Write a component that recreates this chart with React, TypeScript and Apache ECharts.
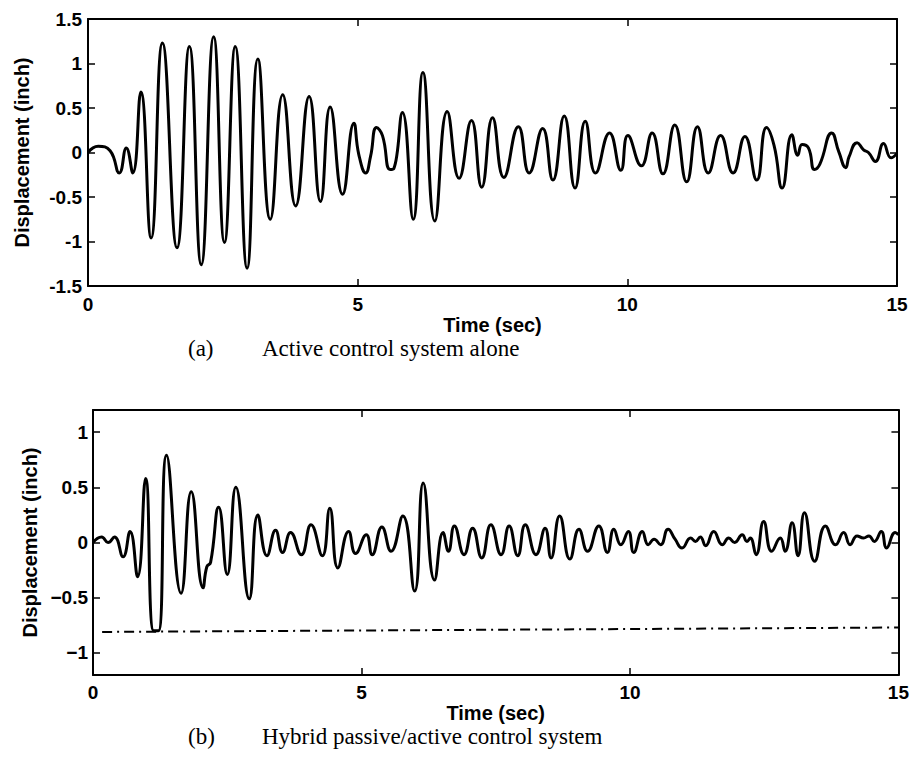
import React, { useEffect, useRef } from "react";
import * as echarts from "echarts";

// (a) Active control system alone — time (sec) and displacement (inch), read at extrema
const timeA = [0, 0.19, 0.41, 0.58, 0.71, 0.83, 0.98, 1.17, 1.38, 1.65, 1.88, 2.1, 2.33, 2.53, 2.73, 2.95, 3.15, 3.38, 3.61, 3.85, 4.1, 4.31, 4.49, 4.72, 4.93, 5.02, 5.15, 5.24, 5.35, 5.46, 5.6, 5.67, 5.83, 6.03, 6.21, 6.43, 6.66, 6.88, 7.11, 7.3, 7.5, 7.71, 7.98, 8.18, 8.43, 8.62, 8.83, 9.03, 9.22, 9.41, 9.67, 9.88, 10.01, 10.26, 10.46, 10.66, 10.88, 11.1, 11.3, 11.5, 11.73, 11.96, 12.18, 12.4, 12.58, 12.72, 12.87, 13.05, 13.16, 13.24, 13.36, 13.47, 13.57, 13.79, 13.92, 14.05, 14.11, 14.26, 14.38, 14.47, 14.6, 14.75, 14.89, 15];
const dispA = [0, 0.07, 0.02, -0.23, 0.05, -0.23, 0.68, -0.96, 1.23, -1.07, 1.19, -1.26, 1.3, -1.01, 1.19, -1.3, 1.05, -0.75, 0.65, -0.6, 0.63, -0.55, 0.51, -0.47, 0.33, -0.02, -0.23, -0.04, 0.28, 0.19, -0.19, -0.18, 0.45, -0.75, 0.9, -0.77, 0.46, -0.29, 0.36, -0.39, 0.39, -0.28, 0.29, -0.23, 0.27, -0.31, 0.41, -0.4, 0.35, -0.23, 0.22, -0.2, 0.19, -0.15, 0.22, -0.24, 0.31, -0.33, 0.29, -0.23, 0.19, -0.23, 0.18, -0.31, 0.28, 0.08, -0.4, 0.2, -0.03, 0.09, 0.05, -0.19, -0.13, 0.22, 0.01, -0.17, -0.05, 0.11, 0.03, 0, -0.1, 0.1, -0.06, -0.01];

// (b) Hybrid passive/active control system
const timeB = [0, 0.16, 0.28, 0.4, 0.56, 0.69, 0.83, 0.98, 1.13, 1.22, 1.37, 1.64, 1.83, 2.05, 2.12, 2.19, 2.34, 2.5, 2.66, 2.91, 3.07, 3.24, 3.4, 3.53, 3.68, 3.88, 4.06, 4.27, 4.41, 4.56, 4.76, 4.89, 5.09, 5.2, 5.38, 5.55, 5.77, 5.99, 6.15, 6.36, 6.52, 6.62, 6.73, 6.91, 7.07, 7.24, 7.41, 7.6, 7.75, 7.91, 8.05, 8.25, 8.42, 8.53, 8.69, 8.88, 9.05, 9.21, 9.42, 9.58, 9.7, 9.83, 9.97, 10.07, 10.23, 10.34, 10.45, 10.57, 10.71, 10.84, 10.97, 11.13, 11.22, 11.31, 11.41, 11.56, 11.72, 11.84, 11.95, 12.09, 12.18, 12.24, 12.35, 12.49, 12.64, 12.8, 12.89, 13.02, 13.13, 13.25, 13.44, 13.64, 13.83, 13.98, 14.1, 14.23, 14.35, 14.45, 14.55, 14.68, 14.78, 14.94, 15];
const dispB = [0, 0.05, 0, 0.05, -0.13, 0.1, -0.31, 0.58, -0.8, -0.8, 0.79, -0.46, 0.46, -0.41, -0.22, -0.18, 0.32, -0.29, 0.5, -0.51, 0.25, -0.12, 0.11, -0.09, 0.09, -0.11, 0.16, -0.12, 0.31, -0.23, 0.1, -0.1, 0.07, -0.11, 0.14, -0.08, 0.24, -0.44, 0.54, -0.34, 0.09, -0.08, 0.15, -0.11, 0.13, -0.14, 0.16, -0.11, 0.15, -0.12, 0.16, -0.11, 0.13, -0.14, 0.24, -0.15, 0.12, -0.08, 0.15, -0.09, 0.12, -0.02, 0.1, -0.09, 0.1, -0.02, 0.03, -0.02, 0.12, 0.03, -0.05, 0.04, 0.01, 0.05, -0.03, 0.1, -0.02, 0.04, 0, 0.07, 0.01, 0.04, -0.11, 0.19, -0.08, 0.04, -0.08, 0.18, -0.12, 0.27, -0.17, 0.15, -0.02, 0.09, -0.02, 0.06, 0.04, 0.06, 0.01, 0.1, -0.05, 0.09, 0.07];

// dash-dot displacement limit line in (b)
const limitTime = [0.17, 15];
const limitDisp = [-0.81, -0.77];

const xTicks = [0, 5, 10, 15];
const yTicksA = [-1.5, -1, -0.5, 0, 0.5, 1, 1.5];
const yTicksB = [-1, -0.5, 0, 0.5, 1];

const xTitle = "Time (sec)";
const yTitle = "Displacement (inch)";
const captionA = ["(a)", "Active control system alone"];
const captionB = ["(b)", "Hybrid passive/active control system"];

const zip = (xs: number[], ys: number[]) => xs.map((x, i) => [x, ys[i]]);

const SANS = "Liberation Sans";
const SERIF = "Liberation Serif";

const lineStyle = { color: "#000", width: 2 };
const labelStyle = { fontSize: 19, fontWeight: "bold" as const, fontFamily: SANS, color: "#000" };
const nameStyle = { fontSize: 20, fontWeight: "bold" as const, fontFamily: SANS, color: "#000" };

function xAxes(grid: number, labelMargin: number) {
  const base = {
    gridIndex: grid,
    type: "value" as const,
    min: xTicks[0],
    max: xTicks[xTicks.length - 1],
    interval: 5,
    splitLine: { show: false },
    axisLine: { show: true, onZero: false, lineStyle },
    axisTick: { show: true, inside: true, length: 7, lineStyle: { color: "#000", width: 1.5 } },
  };
  return [
    {
      ...base,
      position: "bottom" as const,
      axisLabel: { ...labelStyle, margin: labelMargin },
      name: xTitle,
      nameLocation: "middle" as const,
      nameGap: 25,
      nameTextStyle: { ...nameStyle },
    },
    { ...base, position: "top" as const, axisLabel: { show: false } },
  ];
}

function yAxes(grid: number, min: number, max: number, ticks: number[], margin: number, nameGap: number, minus: string) {
  const base = {
    gridIndex: grid,
    type: "value" as const,
    min,
    max,
    splitLine: { show: false },
    axisLine: { show: true, onZero: false, lineStyle },
    axisTick: { show: true, inside: true, length: 7, customValues: ticks, lineStyle: { color: "#000", width: 1.5 } },
  };
  return [
    {
      ...base,
      position: "left" as const,
      axisLabel: {
        ...labelStyle,
        margin,
        customValues: ticks,
        formatter: (v: number) => (v < 0 ? minus + String(Math.abs(v)) : String(v)),
      },
      name: yTitle,
      nameLocation: "middle" as const,
      nameGap,
      nameRotate: 90,
      nameTextStyle: { ...nameStyle },
    },
    { ...base, position: "right" as const, axisLabel: { show: false } },
  ];
}

export default function App() {
  const ref = useRef<HTMLDivElement>(null);
  useEffect(() => {
    if (!ref.current) return;
    const chart = echarts.init(ref.current, null, { renderer: "svg" });
    const capFont = `23px "${SERIF}"`;
    chart.setOption({
      animation: false,
      backgroundColor: "#fff",
      grid: [
        { left: 88, top: 19, width: 809, height: 267 },
        { left: 93, top: 410, width: 807, height: 265 },
      ],
      xAxis: [...xAxes(0, 9), ...xAxes(1, 8)],
      yAxis: [
        ...yAxes(0, -1.5, 1.5, yTicksA, 6, 56, "-"),
        ...yAxes(1, -1.2, 1.2, yTicksB, 5, 46, "\u2212"),
      ],
      series: [
        {
          type: "line",
          xAxisIndex: 0,
          yAxisIndex: 0,
          data: zip(timeA, dispA),
          showSymbol: false,
          smooth: 0.5,
          lineStyle: { color: "#000", width: 3 },
        },
        {
          type: "line",
          xAxisIndex: 2,
          yAxisIndex: 2,
          data: zip(timeB, dispB),
          showSymbol: false,
          smooth: 0.5,
          lineStyle: { color: "#000", width: 3 },
        },
        {
          type: "line",
          xAxisIndex: 2,
          yAxisIndex: 2,
          data: zip(limitTime, limitDisp),
          showSymbol: false,
          lineStyle: { color: "#000", width: 2, type: [10, 5, 2, 5] },
        },
      ],
      graphic: [
        { type: "text", left: 188, top: 337, style: { text: captionA[0], font: capFont, fill: "#000" } },
        { type: "text", left: 262, top: 337, style: { text: captionA[1], font: capFont, fill: "#000" } },
        { type: "text", left: 188, top: 725, style: { text: captionB[0], font: capFont, fill: "#000" } },
        { type: "text", left: 262, top: 725, style: { text: captionB[1], font: capFont, fill: "#000" } },
      ],
    });
    return () => chart.dispose();
  }, []);
  return <div ref={ref} style={{ position: "fixed", left: 0, top: 0, width: 912, height: 760 }} />;
}
